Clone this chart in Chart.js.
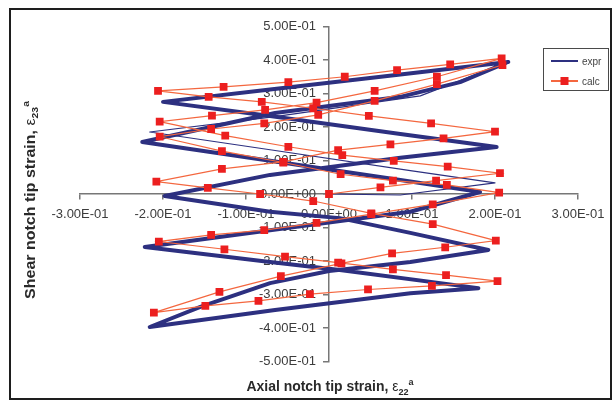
<!DOCTYPE html>
<html>
<head>
<meta charset="utf-8">
<script src="https://cdn.jsdelivr.net/npm/chart.js@4.4.0/dist/chart.umd.min.js"></script>
<style>
  html, body { margin: 0; padding: 0; background: #fff; }
  #wrap { position: relative; width: 615px; height: 408px; overflow: hidden; background: #fff; }
  #chart { position: absolute; left: 0; top: 0; }
  #frame { position: absolute; left: 9px; top: 8px; width: 599px; height: 388px;
           border: 2px solid #1e1e1e; pointer-events: none; }
  .axis-title { position: absolute; font-family: 'Liberation Sans', Arial, sans-serif;
                font-weight: bold; color: #2a2a2a; white-space: nowrap; line-height: 1; }
  #xtitle { left: 330px; top: 385px; font-size: 15px;
            transform: translate(-50%, -50%) scaleX(0.93); }
  #ytitle { left: 30px; top: 200px; font-size: 16px;
            transform: translate(-50%, -50%) rotate(-90deg) scaleY(0.9); }
  .axis-title sub, .axis-title sup { font-size: 65%; line-height: 0; }
  .eps { font-weight: normal; }
</style>
</head>
<body>
<div id="wrap">
  <canvas id="chart" width="615" height="408"></canvas>
  <div id="frame"></div>
  <div id="xtitle" class="axis-title">Axial notch tip strain, <span class="eps">ε</span><sub>22</sub><sup>a</sup></div>
  <div id="ytitle" class="axis-title">Shear notch tip strain, <span class="eps">ε</span><sub>23</sub><sup>a</sup></div>
</div>
<script>
// Axis ticks
const X_TICKS = [-0.3, -0.2, -0.1, 0, 0.1, 0.2, 0.3];
const Y_TICKS = [-0.5, -0.4, -0.3, -0.2, -0.1, 0, 0.1, 0.2, 0.3, 0.4, 0.5];

// Measured notch tip strains (first loading pass is the first 9 points)
const EXPR_X = [0, 0.086, 0.200, 0.098, -0.071, -0.216, -0.065, 0.110, 0.216,
  0.086, -0.071, -0.200, -0.071, 0.086, 0.202, 0.086, -0.071, -0.198,
  -0.071, 0.013, 0.098, 0.192, 0.098, 0.000, -0.071, -0.155, -0.216,
  -0.065, 0.098, 0.180, 0.013, -0.071, -0.222, -0.071, 0.098, 0.182,
  0.086, -0.071, -0.225, -0.065, 0.086, 0.158, 0.216];
const EXPR_Y = [0, -0.003, 0.033, 0.070, 0.132, 0.185, 0.231, 0.293, 0.394,
  0.357, 0.312, 0.275, 0.233, 0.179, 0.140, 0.108, 0.057, -0.006,
  -0.053, -0.072, -0.116, -0.167, -0.203, -0.230, -0.266, -0.337, -0.397,
  -0.346, -0.296, -0.281, -0.227, -0.203, -0.158, -0.108, -0.053, 0.006,
  0.042, 0.099, 0.155, 0.242, 0.290, 0.334, 0.394];
const EXPR_FIRST_PASS = 9;

// Calculated notch tip strains
const CALC_X = [0.000, 0.062, 0.129, 0.206, 0.143, 0.078, 0.016, -0.049, -0.125, -0.204,
  -0.141, -0.077, -0.015, 0.055, 0.130, 0.208, 0.146, 0.082, 0.019, -0.049,
  -0.127, -0.206, -0.145, -0.081, -0.019, 0.048, 0.123, 0.200, 0.138, 0.074,
  0.011, -0.055, -0.129, -0.208, -0.146, -0.083, -0.019, 0.051, 0.125, 0.201,
  0.140, 0.076, 0.015, -0.058, -0.132, -0.211, -0.149, -0.085, -0.023, 0.047,
  0.124, 0.203, 0.141, 0.077, 0.011, -0.053, -0.126, -0.205, -0.142, -0.078,
  -0.015, 0.051, 0.125, 0.205, 0.142, 0.077, 0.014, -0.055, -0.129, -0.204,
  -0.142, -0.078, -0.013, 0.055, 0.130, 0.209];
const CALC_Y = [0.000, 0.020, 0.040, 0.062, 0.082, 0.099, 0.116, 0.141, 0.174, 0.216,
  0.234, 0.251, 0.273, 0.308, 0.350, 0.405, 0.387, 0.370, 0.350, 0.334,
  0.320, 0.308, 0.290, 0.275, 0.256, 0.233, 0.211, 0.186, 0.166, 0.148,
  0.131, 0.096, 0.075, 0.037, 0.018, 0.000, -0.021, -0.058, -0.090, -0.139,
  -0.159, -0.177, -0.207, -0.245, -0.292, -0.354, -0.334, -0.319, -0.299, -0.285,
  -0.274, -0.260, -0.242, -0.225, -0.205, -0.187, -0.165, -0.142, -0.122, -0.108,
  -0.086, -0.060, -0.031, 0.004, 0.027, 0.040, 0.059, 0.094, 0.128, 0.171,
  0.194, 0.211, 0.236, 0.278, 0.328, 0.385];

const FONT = "'Liberation Sans', Arial, sans-serif";
const TICK_FONT = '13px ' + FONT;
const TICK_COLOR = '#3c3c3c';

// Excel-style scientific labels, e.g. -3.00E-01
function sci(v) {
  if (Math.abs(v) < 1e-12) return '0.00E+00';
  const e = Math.floor(Math.log10(Math.abs(v)) + 1e-9);
  const m = v / Math.pow(10, e);
  return m.toFixed(2) + 'E' + (e < 0 ? '-' : '+') + String(Math.abs(e)).padStart(2, '0');
}

const toPoints = (xs, ys) => xs.map((x, i) => ({ x, y: ys[i] }));

// Y tick labels, set off to the left of the centred vertical axis
const yTickLabels = {
  id: 'yTickLabels',
  beforeDatasetsDraw(chart) {
    const ctx = chart.ctx;
    const xs = chart.scales.x, ys = chart.scales.y;
    const axisX = xs.getPixelForValue(0);
    ctx.save();
    ctx.font = TICK_FONT;
    ctx.fillStyle = TICK_COLOR;
    ctx.textAlign = 'right';
    ctx.textBaseline = 'middle';
    Y_TICKS.forEach(v => ctx.fillText(sci(v), axisX - 13, ys.getPixelForValue(v)));
    ctx.restore();
  }
};

// Boxed legend in the upper right corner
const boxedLegend = {
  id: 'boxedLegend',
  afterDraw(chart) {
    const ctx = chart.ctx;
    ctx.save();
    ctx.strokeStyle = '#4a4a4a';
    ctx.lineWidth = 1;
    ctx.strokeRect(543.5, 48.5, 65, 42);
    [0, 1].forEach((di, row) => {
      const ds = chart.data.datasets[di];
      const y = 61 + row * 20;
      ctx.strokeStyle = ds.borderColor;
      ctx.lineWidth = 2;
      ctx.beginPath();
      ctx.moveTo(551, y);
      ctx.lineTo(578, y);
      ctx.stroke();
      if (ds.pointRadius) {
        ctx.fillStyle = ds.pointBackgroundColor;
        ctx.fillRect(560.5, y - 4, 8, 8);
      }
      ctx.fillStyle = '#444';
      ctx.font = '10px ' + FONT;
      ctx.textBaseline = 'middle';
      ctx.textAlign = 'left';
      ctx.fillText(ds.label, 582, y + 1);
    });
    ctx.restore();
  }
};

const axisGrid = { drawOnChartArea: false, drawTicks: true, tickLength: 5, color: '#777', lineWidth: 1.5 };
const axisBorder = { display: true, color: '#777', width: 1.5 };

new Chart(document.getElementById('chart').getContext('2d'), {
  type: 'scatter',
  data: {
    datasets: [
      {
        label: 'expr',
        data: toPoints(EXPR_X, EXPR_Y),
        showLine: true,
        borderColor: '#2d3080',
        borderWidth: 2,
        borderJoinStyle: 'round',
        borderCapStyle: 'round',
        pointRadius: 0,
        order: 2,
        segment: {
          borderWidth: c => (c.p1DataIndex < EXPR_FIRST_PASS ? 1.2 : 4)
        }
      },
      {
        label: 'calc',
        data: toPoints(CALC_X, CALC_Y),
        showLine: true,
        borderColor: '#f4673f',
        borderWidth: 1.2,
        pointStyle: 'rect',
        pointRadius: 5.5,
        pointBackgroundColor: '#ec1f1f',
        pointBorderColor: '#ec1f1f',
        pointBorderWidth: 0,
        order: 1
      }
    ]
  },
  options: {
    responsive: false,
    animation: false,
    events: [],
    layout: { padding: { left: 80, right: 37, top: 26.5, bottom: 46.5 } },
    plugins: { legend: { display: false }, tooltip: { enabled: false } },
    scales: {
      x: {
        type: 'linear',
        min: -0.3, max: 0.3,
        position: { y: 0 },
        afterBuildTicks: s => { s.ticks = X_TICKS.map(v => ({ value: v })); },
        grid: axisGrid,
        border: axisBorder,
        ticks: {
          callback: v => sci(v),
          font: { family: FONT, size: 13 },
          color: TICK_COLOR,
          autoSkip: false,
          maxRotation: 0,
          padding: 8
        }
      },
      y: {
        type: 'linear',
        min: -0.5, max: 0.5,
        position: { x: 0 },
        afterBuildTicks: s => { s.ticks = Y_TICKS.map(v => ({ value: v })); },
        grid: axisGrid,
        border: axisBorder,
        ticks: { display: false }
      }
    }
  },
  plugins: [yTickLabels, boxedLegend]
});
</script>
</body>
</html>
